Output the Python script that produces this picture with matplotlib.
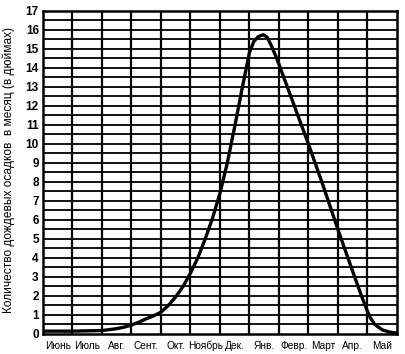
import matplotlib
matplotlib.use("Agg")
import matplotlib.pyplot as plt
import numpy as np

plt.rcParams['font.family'] = ['Liberation Sans', 'DejaVu Sans']

# Data: x in month units from start of June
months = ["Июнь", "Июль", "Авг.", "Сент.", "Окт.", "Ноябрь", "Дек.", "Янв.",
          "Февр.", "Март", "Апр.", "Май"]
curve_x = [0, 1, 2, 2.5, 2.75, 3, 3.25, 3.5, 3.75, 4, 4.25, 4.5, 4.75, 5,
           5.25, 5.5, 5.75, 6, 6.25, 6.5, 6.75, 7, 7.15, 7.3, 7.47, 7.6,
           7.75, 7.9, 8, 8.5, 9, 9.5, 10, 10.5, 10.8, 11, 11.1, 11.25, 11.5,
           11.75, 12]
curve_y = [0.15, 0.15, 0.18, 0.28, 0.36, 0.47, 0.62, 0.8, 0.95, 1.15, 1.5,
           1.95, 2.5, 3.2, 4.0, 5.0, 6.1, 7.4, 9.0, 10.9, 12.9, 14.8, 15.4,
           15.65, 15.75, 15.62, 15.15, 14.6, 14.2, 12.1, 10.0, 7.8, 5.5, 3.3,
           2.0, 1.2, 0.85, 0.5, 0.22, 0.1, 0.05]

fig = plt.figure(figsize=(4.05, 3.54), dpi=100)
ax = fig.add_axes([0.106, 0.0565, 0.874, 0.9125])

ax.set_xlim(0, 12)
ax.set_ylim(0, 17)

for yv in np.arange(0.5, 17, 0.5):
    ax.axhline(yv, color="black", lw=1.3, zorder=1)
for xv in range(1, 12):
    ax.axvline(xv, color="black", lw=1.6, zorder=1)

ax.plot(curve_x, curve_y, color="black", lw=2.4, zorder=3,
        solid_capstyle="round", solid_joinstyle="round")

for s in ax.spines.values():
    s.set_linewidth(1.8)

ax.set_yticks(range(0, 18))
ax.set_yticklabels([str(v) for v in range(0, 18)], fontsize=8.5, fontweight="bold")
ax.set_xticks(np.arange(0.5, 12, 1))
ax.set_xticklabels(months, fontsize=7.3)
ax.tick_params(length=0, pad=3)
ax.tick_params(axis="x", pad=5)

fig.text(0.022, 0.52, "Количество дождевых осадков  в месяц (в дюймах)",
         rotation=90, ha="center", va="center", fontsize=8.6)

fig.savefig("out.png", dpi=100)
